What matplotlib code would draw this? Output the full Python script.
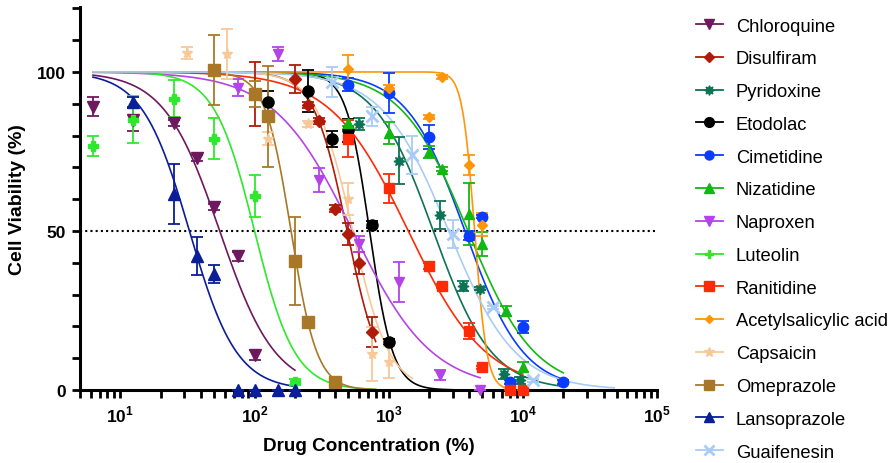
import numpy as np
import matplotlib
matplotlib.use('Agg')
import matplotlib.pyplot as plt
from matplotlib.lines import Line2D
from matplotlib.ticker import FixedLocator, FixedFormatter, LogLocator, NullFormatter

plt.rcParams['font.family'] = ['Liberation Sans', 'DejaVu Sans']
plt.rcParams['mathtext.fontset'] = 'custom'
plt.rcParams['mathtext.rm'] = 'Liberation Sans:bold'
plt.rcParams['mathtext.bf'] = 'Liberation Sans:bold'

# data: concentration, viability, error
chloroquine_x = [6.25, 12.5, 25, 37.5, 50, 75, 100]
chloroquine_y = [89, 85, 84, 73, 57.5, 42, 11]
chloroquine_e = [3, 3.7, 1, 1, 1, 1.5, 1.5]

disulfiram_x = [100, 200, 250, 300, 400, 500, 600, 750]
disulfiram_y = [93, 97.8, 89.6, 84.6, 57, 49, 40, 18.3]
disulfiram_e = [10, 4.4, 1, 1, 1, 3.5, 3.5, 4.7]

pyridoxine_x = [600, 1200, 2400, 3600, 4800, 7200, 9600]
pyridoxine_y = [83.6, 72, 55, 32.7, 31.8, 5, 3]
pyridoxine_e = [1.9, 7.4, 4.5, 1.5, 0.5, 1.5, 1]

etodolac_x = [125, 250, 375, 500, 750, 1000]
etodolac_y = [90.6, 94, 79, 81.6, 52, 15]
etodolac_e = [3.4, 6.5, 2.5, 3.7, 1, 1]

cimetidine_x = [500, 1000, 2000, 4000, 5000, 8000, 10000, 20000]
cimetidine_y = [96, 93.4, 79.5, 48.5, 54.5, 2.5, 19.8, 2.5]
cimetidine_e = [2, 6.2, 3.7, 1.5, 0.5, 0.5, 1.8, 0.5]

nizatidine_x = [500, 1000, 2000, 2500, 4000, 5000, 7500, 10000]
nizatidine_y = [84, 80.8, 74.8, 69.5, 55.3, 46, 24.8, 7.3]
nizatidine_e = [1, 3.5, 2, 0.5, 9.8, 3.8, 1.5, 1.5]

naproxen_x = [75, 150, 300, 600, 1200, 2400, 4800]
naproxen_y = [95, 105.6, 66, 46, 34, 4.7, 0]
naproxen_e = [2.7, 2.3, 3.9, 2.5, 6.2, 1.5, 0]

luteolin_x = [6.25, 12.5, 25, 50, 100, 200]
luteolin_y = [76.8, 85, 91.5, 79, 61, 2.5]
luteolin_e = [3.1, 7.3, 5.8, 6.5, 6.5, 1]

ranitidine_x = [500, 1000, 2000, 2500, 4000, 5000, 8000, 10000]
ranitidine_y = [79, 63.4, 39, 32.7, 18.6, 7.2, 0, 0]
ranitidine_e = [5.8, 4.6, 1, 0.5, 2.5, 0.5, 0, 0]

aspirin_x = [500, 1000, 2000, 2500, 4000, 5000]
aspirin_y = [100.8, 95, 85.8, 98.4, 70.8, 52]
aspirin_e = [4.6, 1, 0.5, 0.5, 3.1, 3.6]

capsaicin_x = [31.25, 62.5, 125, 250, 500, 750, 1000]
capsaicin_y = [106, 105.7, 79, 83.6, 60, 11.3, 8.8]
capsaicin_e = [1.8, 7.8, 2, 1, 5, 8.4, 5]

omeprazole_x = [50, 100, 125, 200, 250, 400]
omeprazole_y = [100.6, 93, 86, 40.6, 21.4, 2.6]
omeprazole_e = [11, 4, 16, 13.8, 1, 1]

lansoprazole_x = [12.5, 25, 37.5, 50, 75, 100, 150, 200]
lansoprazole_y = [90.5, 61.6, 42, 36.5, 0, 0, 0, 0]
lansoprazole_e = [1.5, 9.4, 6, 2.8, 0, 0, 0, 0]

guaifenesin_x = [375, 750, 1500, 3000, 6000, 12000]
guaifenesin_y = [96.8, 86, 74, 49, 26, 3]
guaifenesin_e = [4.7, 3, 6, 4.3, 0.5, 0.5]

# fitted curve parameters (IC50, hill slope, curve end)
drugs = [
    ('Chloroquine', chloroquine_x, chloroquine_y, chloroquine_e, 55, 2.1, 200, '#6E1860', 'v', 8),
    ('Disulfiram', disulfiram_x, disulfiram_y, disulfiram_e, 490, 3.5, 800, '#B01A08', 'D', 6.5),
    ('Pyridoxine', pyridoxine_x, pyridoxine_y, pyridoxine_e, 2150, 2.0, 20000, '#0D7355', (8, 1, 0), 8),
    ('Etodolac', etodolac_x, etodolac_y, etodolac_e, 720, 5.0, 3000, '#000000', 'o', 8),
    ('Cimetidine', cimetidine_x, cimetidine_y, cimetidine_e, 3700, 2.0, 20000, '#0A3CFF', 'o', 7.5),
    ('Nizatidine', nizatidine_x, nizatidine_y, nizatidine_e, 3900, 1.75, 20000, '#12B812', '^', 7.5),
    ('Naproxen', naproxen_x, naproxen_y, naproxen_e, 540, 1.47, 4800, '#B444E8', 'v', 7.5),
    ('Luteolin', luteolin_x, luteolin_y, luteolin_e, 100, 2.9, 800, '#2EE82E', 'P', 7),
    ('Ranitidine', ranitidine_x, ranitidine_y, ranitidine_e, 1400, 1.5, 10000, '#FF2A08', 's', 7.5),
    ('Acetylsalicylic acid', aspirin_x, aspirin_y, aspirin_e, 4370, 9.5, 8000, '#FF960A', 'D', 5),
    ('Capsaicin', capsaicin_x, capsaicin_y, capsaicin_e, 540, 3.2, 1500, '#F8C898', '*', 8),
    ('Omeprazole', omeprazole_x, omeprazole_y, omeprazole_e, 187, 4.5, 800, '#A87828', 's', 8.5),
    ('Lansoprazole', lansoprazole_x, lansoprazole_y, lansoprazole_e, 32.7, 2.47, 200, '#0A1E96', '^', 8),
    ('Guaifenesin', guaifenesin_x, guaifenesin_y, guaifenesin_e, 2800, 1.75, 48000, '#A8CCF5', 'x', 8),
]

fig = plt.figure(figsize=(8.93, 4.64), dpi=100)
ax = fig.add_axes([0.0896, 0.1573, 0.6461, 0.8255])

handles = []
for name, x, y, e, ic50, hill, hi, col, mk, ms in drugs:
    xc = np.logspace(np.log10(6.25), np.log10(hi), 300)
    yc = 100 / (1 + (xc / ic50) ** hill)
    ax.plot(xc, yc, color=col, lw=1.2, zorder=2)
    mew = 2 if mk == 'x' else 1
    ax.errorbar(x, y, yerr=e, fmt='none', ecolor=col, elinewidth=1.3,
                capsize=4, capthick=1.3, clip_on=False, zorder=3)
    ax.plot(x, y, linestyle='none', marker=mk, color=col, ms=ms, mew=mew, clip_on=False, zorder=4)
    handles.append(Line2D([], [], color=col, marker=mk, ms=ms - 1, mew=mew, lw=1.3, label=name))

ax.axhline(50, color='black', ls=(0, (1, 1.5)), lw=1.5, zorder=1)

ax.set_xscale('log')
ax.set_xlim(5, 1e5)
ax.set_ylim(0, 120.4)

ax.xaxis.set_major_locator(FixedLocator([10, 100, 1000, 10000, 100000]))
ax.xaxis.set_major_formatter(FixedFormatter([r'$10^{1}$', r'$10^{2}$', r'$10^{3}$', r'$10^{4}$', r'$10^{5}$']))
ax.xaxis.set_minor_locator(LogLocator(base=10, subs=np.arange(2, 10), numticks=20))
ax.xaxis.set_minor_formatter(NullFormatter())
ax.yaxis.set_major_locator(FixedLocator([0, 50, 100]))
ax.yaxis.set_minor_locator(FixedLocator(np.arange(0, 121, 10)))

for s in ['top', 'right']:
    ax.spines[s].set_visible(False)
for s in ['left', 'bottom']:
    ax.spines[s].set_linewidth(2.2)
ax.tick_params(which='both', direction='out', length=6, width=2)
ax.tick_params(axis='both', which='major', labelsize=12.5, pad=4)
for lb in ax.get_yticklabels():
    lb.set_fontweight('bold')

ax.set_xlabel('Drug Concentration (%)', fontsize=13.6, fontweight='bold', labelpad=9)
ax.set_ylabel('Cell Viability (%)', fontsize=14, fontweight='bold', labelpad=8)

fig.legend(handles=handles, loc='upper left', bbox_to_anchor=(0.779, 0.96), frameon=False,
           fontsize=13.2, handlelength=1.5, handletextpad=0.7, labelspacing=0.86,
           borderpad=0, borderaxespad=0)

fig.savefig('out.png', dpi=100)
